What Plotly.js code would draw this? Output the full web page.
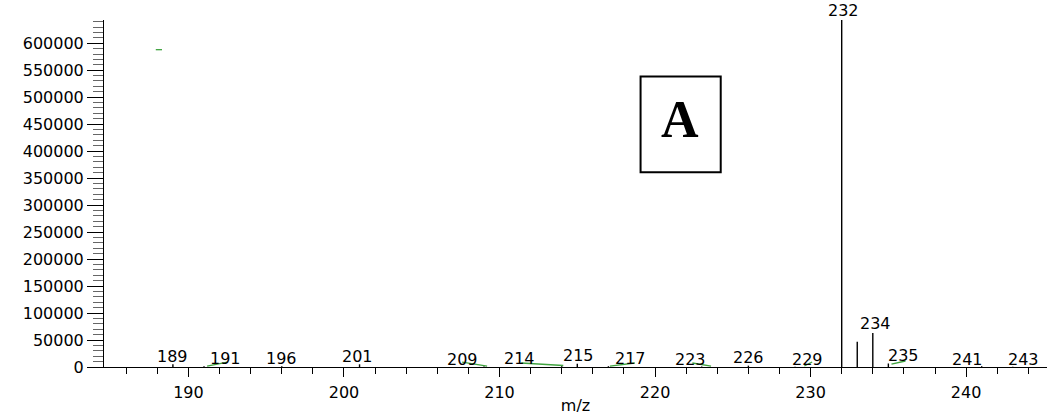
<!DOCTYPE html>
<html>
<head>
<meta charset="utf-8">
<script src="https://cdn.plot.ly/plotly-3.0.1.min.js"></script>
<style>html,body{margin:0;padding:0;background:#fff;}#chart{width:1050px;height:415px;}</style>
</head>
<body>
<div id="chart"></div>
<script>
// Stick spectrum: m/z and intensity
const mz        = [189, 191, 196, 201, 209, 214, 215, 217, 223, 226, 229, 232, 233, 234, 235, 241, 243];
const intensity = [5000, 1500, 1500, 5000, 800, 1500, 6000, 1500, 800, 2500, 500, 643000, 47000, 63000, 6500, 1500, 500];
// Peak labels as printed by the instrument software (text, anchor m/z, anchor intensity)
const labelText = ['189', '191', '196', '201', '209', '214', '215', '217', '223', '226', '229', '232', '234', '235', '241', '243'];
const labelX    = [189.0, 192.4, 196.0, 200.9, 207.6, 211.3, 215.1, 218.4, 222.3, 226.0, 229.8, 232.1, 234.2, 236.0, 240.1, 243.7];
const labelY    = [20000, 15200, 16100, 20000, 13900, 16100, 20700, 16100, 13900, 16700, 13000, 661400, 79900, 20700, 14400, 14400];
// Faint green profile fragments (start/end m/z and intensity)
const greenMzStart  = [191.2, 207.6, 211.4, 217.1, 222.4, 229.6, 235.2, 187.9];
const greenMzEnd    = [192.5, 209.2, 214.1, 218.7, 223.6, 230.1, 236.1, 188.3];
const greenIntStart = [1800, 9200, 7400, 1800, 7400, 1800, 5500, 588000];
const greenIntEnd   = [9200, 1800, 2800, 7400, 1800, 9200, 11100, 588000];
const boxLabel = 'A';
const xTitle = 'm/z';
const yMax = 643000;

const sx = [], sy = [];
mz.forEach((m, i) => { sx.push(m, m, null); sy.push(0, intensity[i], null); });
const gx = [], gy = [];
greenMzStart.forEach((m, i) => { gx.push(m, greenMzEnd[i], null); gy.push(greenIntStart[i], greenIntEnd[i], null); });

const tickFont = {family: 'DejaVu Sans, Arial, sans-serif', size: 16, color: '#000'};
const H = 415, mt = 20, mb = 48, plotH = H - mt - mb;

const annotations = labelText.map((t, i) => {
  const y = Math.min(labelY[i], yMax);
  const shift = (labelY[i] - y) / yMax * plotH;
  return {
    x: labelX[i], y: y, xref: 'x', yref: 'y', yshift: shift,
    text: t, showarrow: false, xanchor: 'center', yanchor: 'middle',
    font: tickFont
  };
});
annotations.push({
  x: 0.611, y: 0.712, xref: 'paper', yref: 'paper', text: '<b>' + boxLabel + '</b>',
  showarrow: false, xanchor: 'center', yanchor: 'middle',
  font: {family: 'Liberation Serif, Times New Roman, serif', size: 52, color: '#000'}
});

const data = [
  {x: gx, y: gy, type: 'scatter', mode: 'lines', line: {color: '#3fa33f', width: 1.3}, hoverinfo: 'skip', showlegend: false},
  {x: sx, y: sy, type: 'scatter', mode: 'lines', line: {color: '#000', width: 1.4}, showlegend: false}
];

const layout = {
  width: 1050, height: H,
  margin: {l: 104, r: 3, t: mt, b: mb},
  paper_bgcolor: '#fff', plot_bgcolor: '#fff',
  showlegend: false,
  xaxis: {
    range: [184.57, 245.2], showgrid: false, zeroline: false,
    showline: true, linecolor: '#000', linewidth: 1,
    ticks: 'outside', tick0: 0, dtick: 10, ticklen: 9, tickcolor: '#000',
    ticklabelstandoff: 2,
    minor: {ticks: 'outside', tick0: 0, dtick: 2, ticklen: 6, tickcolor: '#000', showgrid: false},
    tickfont: tickFont,
    title: {text: xTitle, font: tickFont, standoff: 0}
  },
  yaxis: {
    range: [0, yMax], showgrid: false, zeroline: false,
    showline: true, linecolor: '#000', linewidth: 1,
    ticks: 'outside', tick0: 0, dtick: 50000, ticklen: 16, tickcolor: '#000',
    minor: {ticks: 'outside', tick0: 0, dtick: 10000, ticklen: 10, tickcolor: '#666', showgrid: false},
    tickformat: 'd', tickfont: tickFont
  },
  shapes: [{
    type: 'rect', xref: 'paper', yref: 'paper',
    x0: 0.569, x1: 0.654, y0: 0.561, y1: 0.837,
    line: {color: '#000', width: 2}
  }],
  annotations: annotations
};

Plotly.newPlot('chart', data, layout, {displayModeBar: false, staticPlot: true});
</script>
</body>
</html>
